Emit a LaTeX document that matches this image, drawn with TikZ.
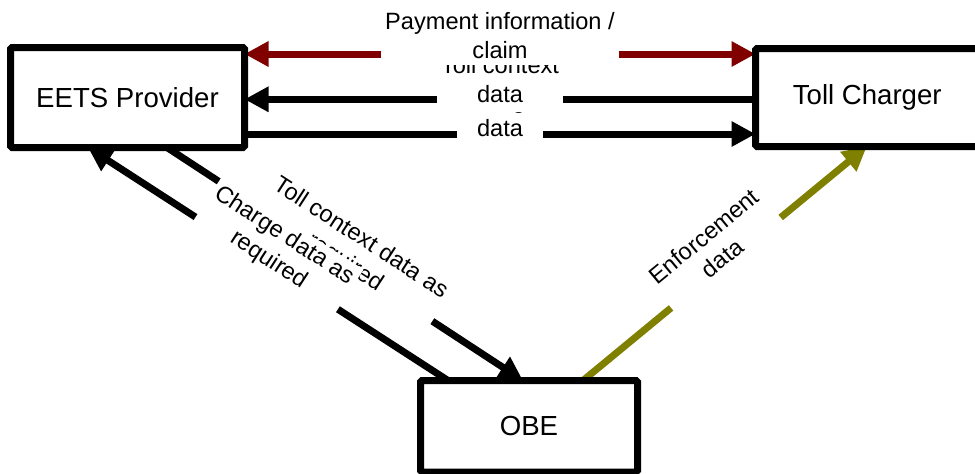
\documentclass[tikz,border=0pt]{standalone}
\usepackage{fontspec}
\setmainfont{Liberation Sans}
\usetikzlibrary{arrows.meta,backgrounds}
\definecolor{paycol}{HTML}{800000}
\definecolor{enfcol}{HTML}{808000}
\begin{document}
\begin{tikzpicture}[x=1pt,y=-1pt,
  party/.style={draw=black,line width=7pt,fill=white,rounded corners=1.5pt,
    inner sep=0pt,outer sep=0pt,font=\fontsize{27.6pt}{33pt}\selectfont},
  flow/.style={line width=7pt,-{Triangle[length=24pt,width=24pt]}},
  flowboth/.style={line width=7pt,{Triangle[length=24pt,width=24pt]}-{Triangle[length=24pt,width=24pt]}},
  lbl/.style={fill=white,inner xsep=4pt,inner ysep=3pt,align=center,
    font=\fontsize{23.6pt}{28.7pt}\selectfont}]
\useasboundingbox (0,0) rectangle (975,474);

% the three parties
\node[party,minimum width=234pt,minimum height=100pt] (eets) at (127.5,97.5) {EETS Provider};
\node[party,minimum width=223.5pt,minimum height=98pt] (tc) at (867.25,97.5) {Toll Charger};
\node[party,minimum width=217pt,minimum height=91.5pt] (obe) at (529,426.25) {OBE};

\begin{pgfonlayer}{background}
% flows between EETS Provider and Toll Charger
\draw[flowboth,draw=paycol,fill=paycol] ([yshift=-6.5pt]eets.north east) -- ([yshift=-5.5pt]tc.north west);
\draw[flow] ([yshift=-1.8pt]tc.west) -- ([yshift=-1.8pt]eets.east);
\draw[flow] ([yshift=13.5pt]eets.south east) -- ([yshift=12.5pt]tc.south west);
% flows to and from the OBE
\draw[flow] ([xshift=156.5pt]eets.south west) -- ([xshift=102.5pt]obe.north west);
\draw[flow] ([xshift=27.5pt]obe.north west) -- ([xshift=77.5pt]eets.south west);
\draw[flow,draw=enfcol,fill=enfcol] ([xshift=162.5pt]obe.north west) -- ([xshift=111.3pt]tc.south west);

% flow labels (later ones lie over earlier ones)
\node[lbl,inner ysep=5pt] (lcharge) at (500,114.05) {Charge\\data};
\node[lbl,inner ysep=10pt] (lctx) at (500,79.3) {Toll context\\data};
\node[lbl,inner ysep=6.4pt] (lpay) at (500,35.4) {Payment information /\\claim};
\node[lbl,rotate=-33] (lctxobe) at (352.8,250.6) {Toll context data as\\required};
\node[lbl,rotate=-33,inner ysep=4pt] (lchargeobe) at (276.5,248.1) {Charge data as\\required};
\node[lbl,rotate=39.5] (lenf) at (713,247.1) {Enforcement\\data};
\end{pgfonlayer}
\end{tikzpicture}
\end{document}
